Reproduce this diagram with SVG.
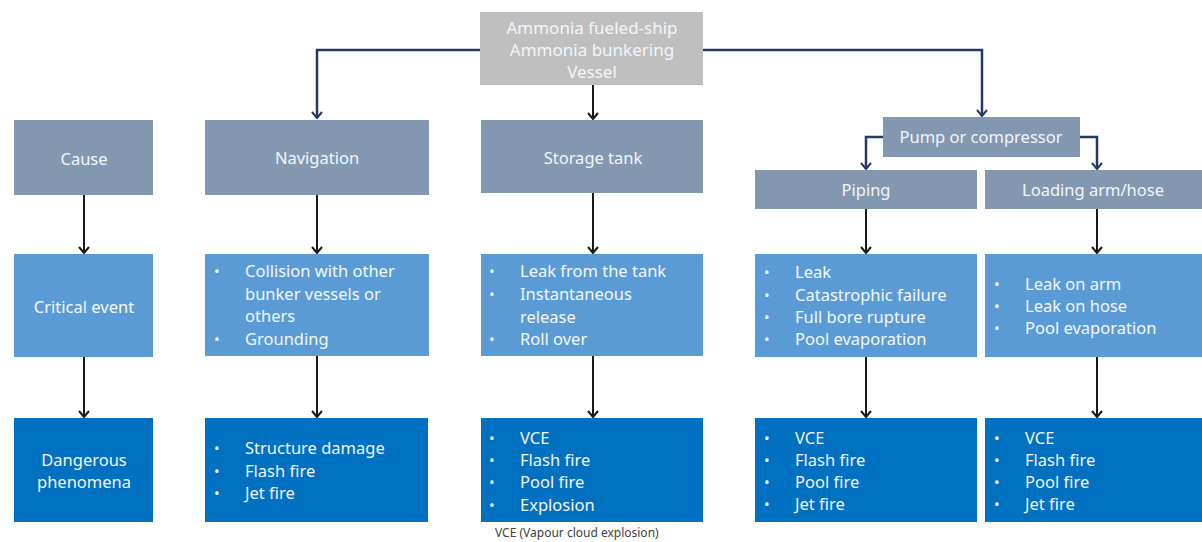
<svg xmlns="http://www.w3.org/2000/svg" width="1202" height="542" viewBox="0 0 1202 542">
<defs>
<marker id="ahk" viewBox="0 0 12 10" refX="6" refY="9" markerWidth="12" markerHeight="10" markerUnits="userSpaceOnUse">
<path d="M1,3 L6,9 L11,3" fill="none" stroke="#1a1a1a" stroke-width="2"/>
</marker>
<marker id="ahn" viewBox="0 0 12 10" refX="6" refY="9" markerWidth="12" markerHeight="10" markerUnits="userSpaceOnUse">
<path d="M1,3 L6,9 L11,3" fill="none" stroke="#243a63" stroke-width="2"/>
</marker>
</defs>
<style>
text{font-family:"Noto Sans","Open Sans","DejaVu Sans",sans-serif;font-size:16.5px;fill:#f2f6fb}
.c{text-anchor:middle}
.t{font-size:17px}
.b{font-size:15px}
.top{fill:#bfbfbf}
.r1{fill:#8497b0}
.r2{fill:#5b9bd5}
.r3{fill:#0070c0}
.k{stroke:#1a1a1a;stroke-width:2;fill:none;marker-end:url(#ahk)}
.n{stroke:#243a63;stroke-width:2.5;fill:none;marker-end:url(#ahn)}
.cap{font-size:12px;fill:#404040}
</style>
<rect width="1202" height="542" fill="#ffffff"/>

<g id="connectors">
<path class="n" d="M480,50 H317 V118"/>
<path class="n" d="M703,50 H982 V116"/>
<path class="k" d="M593,85 V119"/>
<path class="n" d="M883,137 H866 V169"/>
<path class="n" d="M1080,137 H1097 V169"/>
<path class="k" d="M84,195 V253"/>
<path class="k" d="M317,195 V253"/>
<path class="k" d="M593,193 V253"/>
<path class="k" d="M866,209 V253"/>
<path class="k" d="M1097,209 V253"/>
<path class="k" d="M84,357 V417"/>
<path class="k" d="M317,356 V417"/>
<path class="k" d="M593,356 V417"/>
<path class="k" d="M866,357 V417"/>
<path class="k" d="M1097,357 V417"/>
</g>

<g id="source">
<rect class="top" x="480" y="12" width="223" height="73"/>
<text class="c t" x="592" y="34">Ammonia fueled-ship</text>
<text class="c t" x="592" y="56">Ammonia bunkering</text>
<text class="c t" x="592" y="78">Vessel</text>
</g>

<g id="cause">
<rect class="r1" x="14" y="120" width="139" height="75"/>
<text class="c" x="84" y="165">Cause</text>
</g>
<g id="navigation">
<rect class="r1" x="205" y="120" width="224" height="75"/>
<text class="c" x="317" y="164">Navigation</text>
</g>
<g id="storage-tank">
<rect class="r1" x="481" y="120" width="222" height="73"/>
<text class="c" x="593" y="164">Storage tank</text>
</g>
<g id="pump">
<rect class="r1" x="883" y="117" width="197" height="40"/>
<text class="c" x="981" y="143">Pump or compressor</text>
</g>
<g id="piping">
<rect class="r1" x="755" y="170" width="222" height="39"/>
<text class="c" x="866" y="196">Piping</text>
</g>
<g id="loading-arm">
<rect class="r1" x="985" y="170" width="217" height="39"/>
<text class="c" x="1093" y="196">Loading arm/hose</text>
</g>

<g id="critical-event">
<rect class="r2" x="14" y="254" width="139" height="103"/>
<text class="c" x="84" y="313">Critical event</text>
</g>
<g id="nav-events">
<rect class="r2" x="205" y="254" width="224" height="102"/>
<text class="b" x="214" y="277">•</text><text x="245" y="277">Collision with other</text>
<text x="245" y="300">bunker vessels or</text>
<text x="245" y="322">others</text>
<text class="b" x="214" y="345">•</text><text x="245" y="345">Grounding</text>
</g>
<g id="tank-events">
<rect class="r2" x="481" y="254" width="222" height="102"/>
<text class="b" x="489" y="277">•</text><text x="520" y="277">Leak from the tank</text>
<text class="b" x="489" y="300">•</text><text x="520" y="300">Instantaneous</text>
<text x="520" y="323">release</text>
<text class="b" x="489" y="345">•</text><text x="520" y="345">Roll over</text>
</g>
<g id="piping-events">
<rect class="r2" x="755" y="254" width="222" height="103"/>
<text class="b" x="764" y="278">•</text><text x="795" y="278">Leak</text>
<text class="b" x="764" y="301">•</text><text x="795" y="301">Catastrophic failure</text>
<text class="b" x="764" y="323">•</text><text x="795" y="323">Full bore rupture</text>
<text class="b" x="764" y="345">•</text><text x="795" y="345">Pool evaporation</text>
</g>
<g id="arm-events">
<rect class="r2" x="985" y="254" width="217" height="103"/>
<text class="b" x="994" y="290">•</text><text x="1025" y="290">Leak on arm</text>
<text class="b" x="994" y="312">•</text><text x="1025" y="312">Leak on hose</text>
<text class="b" x="994" y="334">•</text><text x="1025" y="334">Pool evaporation</text>
</g>

<g id="dangerous-phenomena">
<rect class="r3" x="14" y="418" width="139" height="104"/>
<text class="c" x="84" y="466">Dangerous</text>
<text class="c" x="84" y="488">phenomena</text>
</g>
<g id="nav-phenomena">
<rect class="r3" x="205" y="418" width="223" height="104"/>
<text class="b" x="214" y="454">•</text><text x="245" y="454">Structure damage</text>
<text class="b" x="214" y="477">•</text><text x="245" y="477">Flash fire</text>
<text class="b" x="214" y="499">•</text><text x="245" y="499">Jet fire</text>
</g>
<g id="tank-phenomena">
<rect class="r3" x="481" y="418" width="222" height="104"/>
<text class="b" x="489" y="444">•</text><text x="520" y="444">VCE</text>
<text class="b" x="489" y="466">•</text><text x="520" y="466">Flash fire</text>
<text class="b" x="489" y="488">•</text><text x="520" y="488">Pool fire</text>
<text class="b" x="489" y="511">•</text><text x="520" y="511">Explosion</text>
</g>
<g id="piping-phenomena">
<rect class="r3" x="755" y="418" width="222" height="104"/>
<text class="b" x="764" y="444">•</text><text x="795" y="444">VCE</text>
<text class="b" x="764" y="466">•</text><text x="795" y="466">Flash fire</text>
<text class="b" x="764" y="488">•</text><text x="795" y="488">Pool fire</text>
<text class="b" x="764" y="510">•</text><text x="795" y="510">Jet fire</text>
</g>
<g id="arm-phenomena">
<rect class="r3" x="985" y="418" width="217" height="104"/>
<text class="b" x="994" y="444">•</text><text x="1025" y="444">VCE</text>
<text class="b" x="994" y="466">•</text><text x="1025" y="466">Flash fire</text>
<text class="b" x="994" y="488">•</text><text x="1025" y="488">Pool fire</text>
<text class="b" x="994" y="510">•</text><text x="1025" y="510">Jet fire</text>
</g>

<text class="cap" x="495" y="537">VCE (Vapour cloud explosion)</text>
</svg>
